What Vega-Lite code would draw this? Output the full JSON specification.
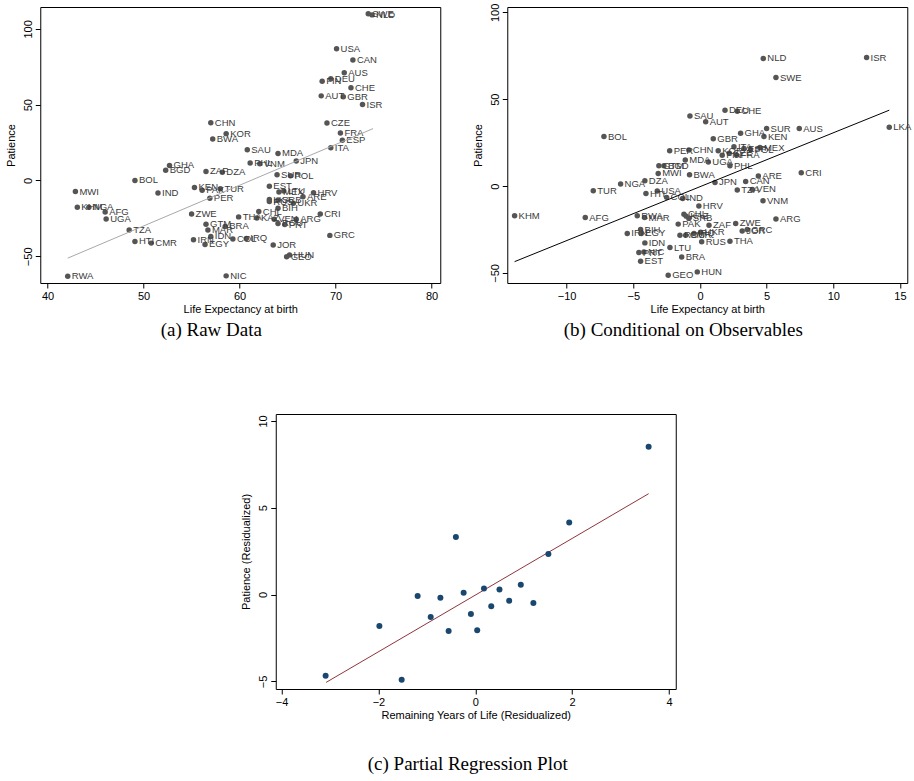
{
  "$schema": "https://vega.github.io/schema/vega-lite/v6.json",
  "background": "white",
  "padding": {"left": 4, "top": 2, "right": 0, "bottom": 0},
  "datasets": {
    "countries": [
      {"c": "SWE", "x1": 73.4, "y1": 110.0, "x2": 5.7, "y2": 62.5},
      {"c": "NLD", "x1": 73.8, "y1": 109.2, "x2": 4.75, "y2": 73.5},
      {"c": "USA", "x1": 70.1, "y1": 86.8, "x2": -3.2, "y2": -2.8},
      {"c": "CAN", "x1": 71.8, "y1": 79.5, "x2": 3.43, "y2": 2.7},
      {"c": "AUS", "x1": 70.9, "y1": 71.1, "x2": 7.45, "y2": 33.1},
      {"c": "DEU", "x1": 69.5, "y1": 67.1, "x2": 1.88, "y2": 43.7},
      {"c": "FIN", "x1": 68.6, "y1": 65.4, "x2": 1.67, "y2": 17.7},
      {"c": "CHE", "x1": 71.6, "y1": 61.1, "x2": 2.8, "y2": 43.1},
      {"c": "AUT", "x1": 68.5, "y1": 55.8, "x2": 0.43, "y2": 37.1},
      {"c": "GBR", "x1": 70.8, "y1": 55.2, "x2": 1.0, "y2": 27.3},
      {"c": "ISR", "x1": 72.8, "y1": 50.1, "x2": 12.5, "y2": 74.0},
      {"c": "CZE", "x1": 69.1, "y1": 37.9, "x2": 2.2, "y2": 18.9},
      {"c": "FRA", "x1": 70.5, "y1": 31.3, "x2": 2.75, "y2": 17.7},
      {"c": "ESP", "x1": 70.7, "y1": 26.5, "x2": 3.3, "y2": 21.6},
      {"c": "ITA", "x1": 69.5, "y1": 21.6, "x2": 2.55, "y2": 22.7},
      {"c": "CHN", "x1": 57.0, "y1": 38.0, "x2": -0.83, "y2": 20.8},
      {"c": "KOR", "x1": 58.6, "y1": 30.9, "x2": 1.37, "y2": 20.4},
      {"c": "BWA", "x1": 57.2, "y1": 27.3, "x2": -0.78, "y2": 6.5},
      {"c": "SAU", "x1": 60.8, "y1": 20.3, "x2": -0.75, "y2": 40.4},
      {"c": "MDA", "x1": 64.0, "y1": 17.8, "x2": -1.1, "y2": 15.0},
      {"c": "JPN", "x1": 65.9, "y1": 12.9, "x2": 1.13, "y2": 2.1},
      {"c": "PHL", "x1": 61.1, "y1": 11.5, "x2": 2.25, "y2": 11.7},
      {"c": "VNM", "x1": 62.1, "y1": 11.0, "x2": 4.73, "y2": -8.5},
      {"c": "GHA", "x1": 52.7, "y1": 9.9, "x2": 3.05, "y2": 30.4},
      {"c": "BGD", "x1": 52.3, "y1": 6.8, "x2": -2.7, "y2": 11.7},
      {"c": "ZAF", "x1": 56.5, "y1": 6.0, "x2": 0.68, "y2": -22.5},
      {"c": "DZA", "x1": 58.2, "y1": 5.5, "x2": -4.13, "y2": 3.1},
      {"c": "SUR", "x1": 63.9, "y1": 3.8, "x2": 5.0, "y2": 33.1},
      {"c": "POL", "x1": 65.3, "y1": 3.1, "x2": 3.8, "y2": 21.0},
      {"c": "BOL", "x1": 49.1, "y1": 0.0, "x2": -7.2, "y2": 28.5},
      {"c": "EST", "x1": 63.1, "y1": -3.8, "x2": -4.45, "y2": -43.3},
      {"c": "KEN", "x1": 55.3, "y1": -4.6, "x2": 4.8, "y2": 28.5},
      {"c": "TUR", "x1": 58.0, "y1": -5.5, "x2": -8.0, "y2": -2.7},
      {"c": "PAK", "x1": 56.1, "y1": -6.4, "x2": -1.63, "y2": -21.9},
      {"c": "MWI", "x1": 42.9, "y1": -7.3, "x2": -3.13, "y2": 7.3},
      {"c": "MEX", "x1": 64.1, "y1": -7.6, "x2": 4.5, "y2": 22.2},
      {"c": "LTU", "x1": 64.6, "y1": -7.0, "x2": -2.25, "y2": -35.4},
      {"c": "HRV", "x1": 67.7, "y1": -8.1, "x2": -0.08, "y2": -11.5},
      {"c": "IND", "x1": 51.5, "y1": -8.2, "x2": -1.3, "y2": -7.1},
      {"c": "ARE", "x1": 66.6, "y1": -10.8, "x2": 4.38, "y2": 5.8},
      {"c": "PER", "x1": 56.9, "y1": -11.7, "x2": -2.27, "y2": 20.4},
      {"c": "LKA", "x1": 63.1, "y1": -12.6, "x2": 14.2, "y2": 33.9},
      {"c": "SRB", "x1": 64.0, "y1": -12.8, "x2": -0.83, "y2": -18.6},
      {"c": "RUS", "x1": 63.1, "y1": -13.9, "x2": 0.13, "y2": -32.1},
      {"c": "UKR", "x1": 65.6, "y1": -15.0, "x2": 0.05, "y2": -26.6},
      {"c": "KHM", "x1": 43.1, "y1": -17.7, "x2": -13.9, "y2": -17.1},
      {"c": "NGA", "x1": 44.3, "y1": -17.7, "x2": -5.95, "y2": 1.2},
      {"c": "BIH", "x1": 64.0, "y1": -18.3, "x2": -4.45, "y2": -25.0},
      {"c": "AFG", "x1": 46.0, "y1": -20.8, "x2": -8.6, "y2": -18.1},
      {"c": "CHL", "x1": 62.0, "y1": -20.5, "x2": -1.2, "y2": -16.2},
      {"c": "ZWE", "x1": 55.0, "y1": -22.1, "x2": 2.68, "y2": -21.5},
      {"c": "CRI", "x1": 68.4, "y1": -22.1, "x2": 7.6, "y2": 7.7},
      {"c": "THA", "x1": 59.9, "y1": -24.0, "x2": 2.25, "y2": -31.7},
      {"c": "KAZ", "x1": 61.8, "y1": -24.7, "x2": -1.03, "y2": -17.3},
      {"c": "UGA", "x1": 46.1, "y1": -25.4, "x2": 0.63, "y2": 13.8},
      {"c": "VEN", "x1": 63.6, "y1": -25.6, "x2": 3.93, "y2": -1.9},
      {"c": "ARG", "x1": 65.9, "y1": -25.6, "x2": 5.7, "y2": -19.0},
      {"c": "ROU", "x1": 64.0, "y1": -28.3, "x2": -1.5, "y2": -28.3},
      {"c": "PRT", "x1": 64.7, "y1": -29.1, "x2": -4.58, "y2": -38.3},
      {"c": "GTM", "x1": 56.5, "y1": -28.9, "x2": -3.08, "y2": 11.7},
      {"c": "BRA", "x1": 58.5, "y1": -30.3, "x2": -1.37, "y2": -40.8},
      {"c": "TZA", "x1": 48.5, "y1": -32.7, "x2": 2.8, "y2": -2.3},
      {"c": "MAR", "x1": 56.7, "y1": -32.7, "x2": -4.15, "y2": -18.1},
      {"c": "GRC", "x1": 69.4, "y1": -36.2, "x2": 3.55, "y2": -25.0},
      {"c": "IDN", "x1": 57.0, "y1": -36.9, "x2": -4.13, "y2": -32.7},
      {"c": "COL", "x1": 59.3, "y1": -38.6, "x2": -2.5, "y2": -6.5},
      {"c": "IRQ", "x1": 60.7, "y1": -38.2, "x2": -0.45, "y2": -27.3},
      {"c": "IRN", "x1": 55.2, "y1": -39.1, "x2": -5.45, "y2": -27.3},
      {"c": "HTI", "x1": 49.1, "y1": -40.2, "x2": -4.05, "y2": -4.3},
      {"c": "CMR", "x1": 50.8, "y1": -41.3, "x2": -1.07, "y2": -28.3},
      {"c": "EGY", "x1": 56.4, "y1": -42.2, "x2": -4.4, "y2": -27.3},
      {"c": "JOR", "x1": 63.5, "y1": -42.6, "x2": 3.17, "y2": -25.8},
      {"c": "HUN", "x1": 65.2, "y1": -49.2, "x2": -0.2, "y2": -49.4},
      {"c": "GEO", "x1": 64.9, "y1": -50.3, "x2": -2.38, "y2": -51.4},
      {"c": "NIC", "x1": 58.6, "y1": -62.9, "x2": -4.2, "y2": -37.9},
      {"c": "RWA", "x1": 42.1, "y1": -63.1, "x2": -4.7, "y2": -17.1}
    ],
    "fitA": [{"x1": 42.1, "y1": -51.2}, {"x1": 73.9, "y1": 34.2}],
    "fitB": [{"x2": -13.9, "y2": -43.5}, {"x2": 14.2, "y2": 43.7}],
    "partial": [
      {"x": -3.09, "y": -4.67}, {"x": -1.98, "y": -1.81}, {"x": -1.52, "y": -4.9},
      {"x": -1.19, "y": -0.08}, {"x": -0.92, "y": -1.29}, {"x": -0.72, "y": -0.19},
      {"x": -0.55, "y": -2.1}, {"x": -0.4, "y": 3.31}, {"x": -0.24, "y": 0.1},
      {"x": -0.09, "y": -1.12}, {"x": 0.04, "y": -2.06}, {"x": 0.18, "y": 0.35},
      {"x": 0.33, "y": -0.67}, {"x": 0.5, "y": 0.29}, {"x": 0.7, "y": -0.35},
      {"x": 0.94, "y": 0.56}, {"x": 1.2, "y": -0.48}, {"x": 1.51, "y": 2.33},
      {"x": 1.94, "y": 4.15}, {"x": 3.58, "y": 8.52}
    ],
    "fitC": [{"x": -3.08, "y": -5.06}, {"x": 3.58, "y": 5.81}]
  },
  "config": {
    "view": {"stroke": "#000000", "strokeWidth": 1},
    "axis": {
      "grid": false, "domain": false, "ticks": true, "tickSize": 5, "tickColor": "#000000",
      "labelFont": "Liberation Sans", "labelFontSize": 11, "labelColor": "#000000",
      "titleFont": "Liberation Sans", "titleFontSize": 11, "titleFontWeight": "normal", "titleColor": "#000000",
      "labelFlush": false, "labelOverlap": false
    },
    "axisY": {"labelAngle": -90, "labelAlign": "center", "labelBaseline": "bottom", "labelPadding": 2, "titlePadding": 6},
    "axisX": {"labelPadding": 2, "titlePadding": 2},
    "title": {"font": "Liberation Serif", "fontSize": 19, "fontWeight": "normal", "color": "#000000", "orient": "bottom", "anchor": "middle", "frame": "group", "offset": 7}
  },
  "spacing": 72,
  "center": true,
  "vconcat": [
    {
      "spacing": 30,
      "hconcat": [
        {
          "width": 400, "height": 276,
          "title": {"text": "(a) Raw Data", "dx": -29},
          "layer": [
            {
              "data": {"name": "countries"},
              "mark": {"type": "circle", "size": 30, "color": "#555555", "opacity": 1},
              "encoding": {
                "x": {"field": "x1", "type": "quantitative", "scale": {"domain": [39.24, 80.9], "nice": false, "zero": false}, "axis": {"values": [40, 50, 60, 70, 80], "title": "Life Expectancy at birth"}},
                "y": {"field": "y1", "type": "quantitative", "scale": {"domain": [-67.6, 114.4], "nice": false, "zero": false}, "axis": {"values": [-50, 0, 50, 100], "title": "Patience"}}
              }
            },
            {
              "data": {"name": "countries"},
              "mark": {"type": "text", "dx": 4, "align": "left", "baseline": "middle", "font": "Liberation Sans", "fontSize": 9.5, "color": "#3a3a3a"},
              "encoding": {
                "x": {"field": "x1", "type": "quantitative"},
                "y": {"field": "y1", "type": "quantitative"},
                "text": {"field": "c"}
              }
            },
            {
              "data": {"name": "fitA"},
              "mark": {"type": "line", "color": "#a8a8a8", "strokeWidth": 1},
              "encoding": {
                "x": {"field": "x1", "type": "quantitative"},
                "y": {"field": "y1", "type": "quantitative"}
              }
            }
          ]
        },
        {
          "width": 400, "height": 276,
          "title": {"text": "(b) Conditional on Observables", "dx": -24},
          "layer": [
            {
              "data": {"name": "countries"},
              "mark": {"type": "circle", "size": 30, "color": "#555555", "opacity": 1},
              "encoding": {
                "x": {"field": "x2", "type": "quantitative", "scale": {"domain": [-14.45, 15.55], "nice": false, "zero": false}, "axis": {"values": [-10, -5, 0, 5, 10, 15], "title": "Life Expectancy at birth"}},
                "y": {"field": "y2", "type": "quantitative", "scale": {"domain": [-55.8, 103.1], "nice": false, "zero": false}, "axis": {"values": [-50, 0, 50, 100], "title": "Patience"}}
              }
            },
            {
              "data": {"name": "countries"},
              "mark": {"type": "text", "dx": 4, "align": "left", "baseline": "middle", "font": "Liberation Sans", "fontSize": 9.5, "color": "#3a3a3a"},
              "encoding": {
                "x": {"field": "x2", "type": "quantitative"},
                "y": {"field": "y2", "type": "quantitative"},
                "text": {"field": "c"}
              }
            },
            {
              "data": {"name": "fitB"},
              "mark": {"type": "line", "color": "#000000", "strokeWidth": 1},
              "encoding": {
                "x": {"field": "x2", "type": "quantitative"},
                "y": {"field": "y2", "type": "quantitative"}
              }
            }
          ]
        }
      ]
    },
    {
      "width": 400, "height": 275,
      "title": {"text": "(c) Partial Regression Plot", "dx": -8, "offset": 35},
      "layer": [
        {
          "data": {"name": "fitC"},
          "mark": {"type": "line", "color": "#90353b", "strokeWidth": 1},
          "encoding": {
            "x": {"field": "x", "type": "quantitative", "scale": {"domain": [-4.12, 4.14], "nice": false, "zero": false}, "axis": {"values": [-4, -2, 0, 2, 4], "title": "Remaining Years of Life (Residualized)"}},
            "y": {"field": "y", "type": "quantitative", "scale": {"domain": [-5.44, 10.4], "nice": false, "zero": false}, "axis": {"values": [-5, 0, 5, 10], "title": "Patience (Residualized)"}}
          }
        },
        {
          "data": {"name": "partial"},
          "mark": {"type": "circle", "size": 36, "color": "#1a476f", "opacity": 1},
          "encoding": {
            "x": {"field": "x", "type": "quantitative"},
            "y": {"field": "y", "type": "quantitative"}
          }
        }
      ]
    }
  ]
}
